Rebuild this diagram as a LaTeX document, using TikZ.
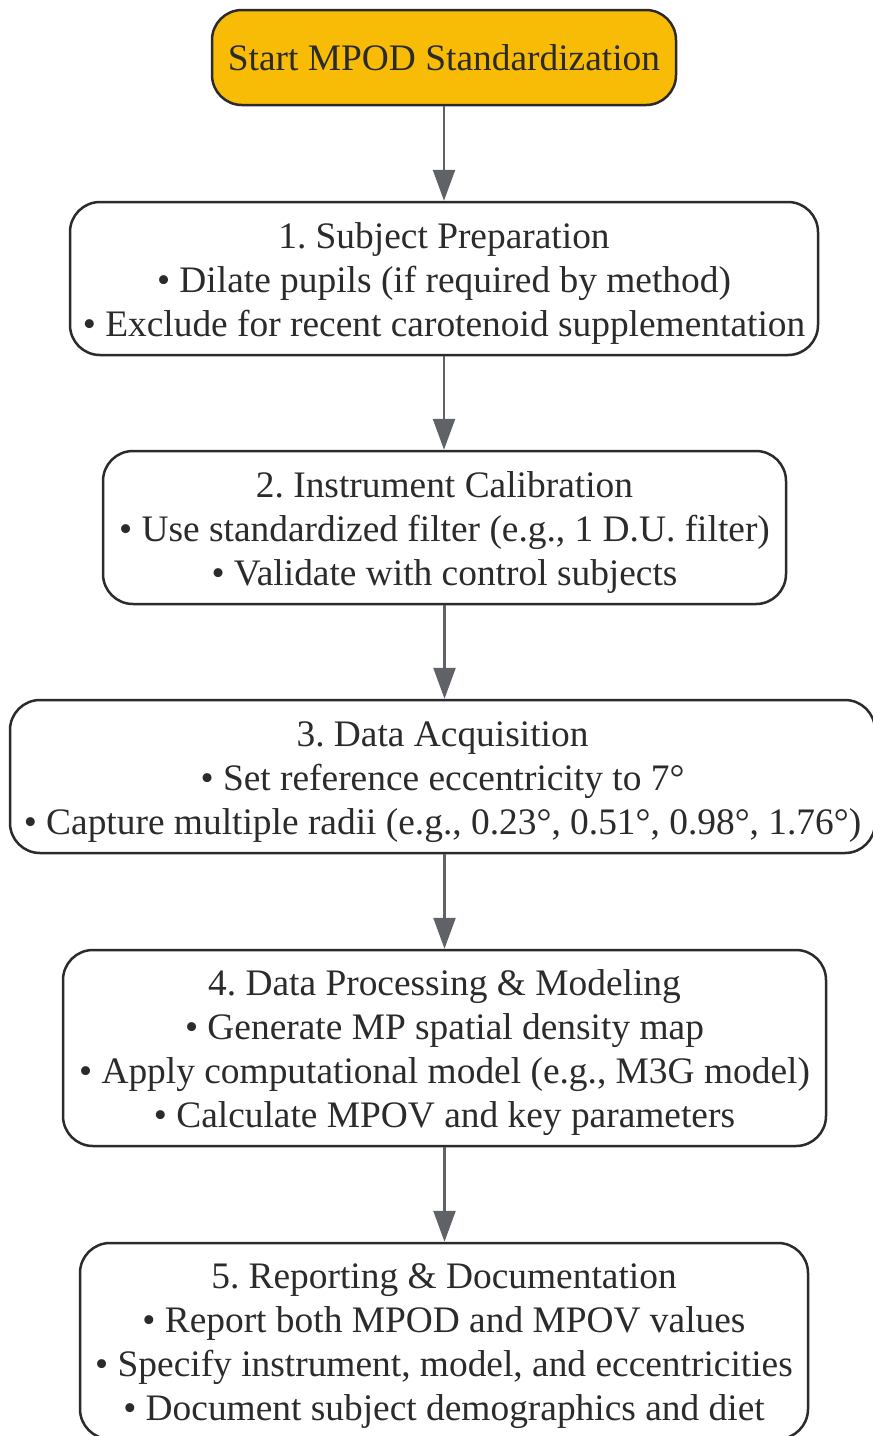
\documentclass[tikz,border=0pt]{standalone}
\usepackage{fontspec}
\setmainfont{Liberation Serif}
\usetikzlibrary{arrows.meta}
\definecolor{startfill}{HTML}{F9BC06}
\definecolor{boxline}{HTML}{2B2B2B}
\definecolor{flowline}{HTML}{5F6368}
\newcommand\toppad{\rule{0pt}{36pt}}
\frenchspacing
\begin{document}
\begin{tikzpicture}[x=1pt,y=-1pt,>={Triangle[length=31pt,width=22pt]}, line join=round, font=\fontsize{37.4}{44}\selectfont]
        \tikzset{stepbox/.style={draw=boxline, line width=2.5pt, rounded corners=30pt, fill=white, align=center, inner sep=0pt, text=boxline},
                 flow/.style={->, draw=flowline, fill=flowline, line width=2.5pt}}
        \useasboundingbox (0,0) rectangle (873,1436);
        % steps
        \node[stepbox, fill=startfill, minimum width=464pt, minimum height=95pt] (start) at (444,57.5) {Start MPOD Standardization};
        \node[stepbox, minimum width=748pt, minimum height=153pt] (prep) at (444,278.5)
            {\toppad 1. Subject Preparation\\ • Dilate pupils (if required by method)\\ • Exclude for recent carotenoid supplementation};
        \node[stepbox, minimum width=683pt, minimum height=153pt] (calib) at (444.5,527.5)
            {\toppad 2. Instrument Calibration\\ • Use standardized filter (e.g., 1 D.U. filter)\\ • Validate with control subjects};
        \node[stepbox, minimum width=865pt, minimum height=153pt] (acq) at (442.5,776.5)
            {\toppad 3. Data Acquisition\\ • Set reference eccentricity to 7°\\ • Capture multiple radii (e.g., 0.23°, 0.51°, 0.98°, 1.76°)};
        \node[stepbox, minimum width=763pt, minimum height=196pt] (proc) at (444.5,1048)
            {\toppad 4. Data Processing \& Modeling\\ • Generate MP spatial density map\\ • Apply computational model (e.g., M3G model)\\ • Calculate MPOV and key parameters};
        \node[stepbox, minimum width=728pt, minimum height=196pt] (report) at (444,1341)
            {\toppad 5. Reporting \& Documentation\\ • Report both MPOD and MPOV values\\ • Specify instrument, model, and eccentricities\\ • Document subject demographics and diet};
        % arrows
        \draw[flow] (start.south) -- (start.south |- prep.north);
        \draw[flow] (prep.south) -- (prep.south |- calib.north);
        \draw[flow] (calib.south) -- (calib.south |- acq.north);
        \draw[flow] (calib.south |- acq.south) -- (calib.south |- proc.north);
        \draw[flow] (proc.south) -- (proc.south |- report.north);
\end{tikzpicture}
\end{document}
